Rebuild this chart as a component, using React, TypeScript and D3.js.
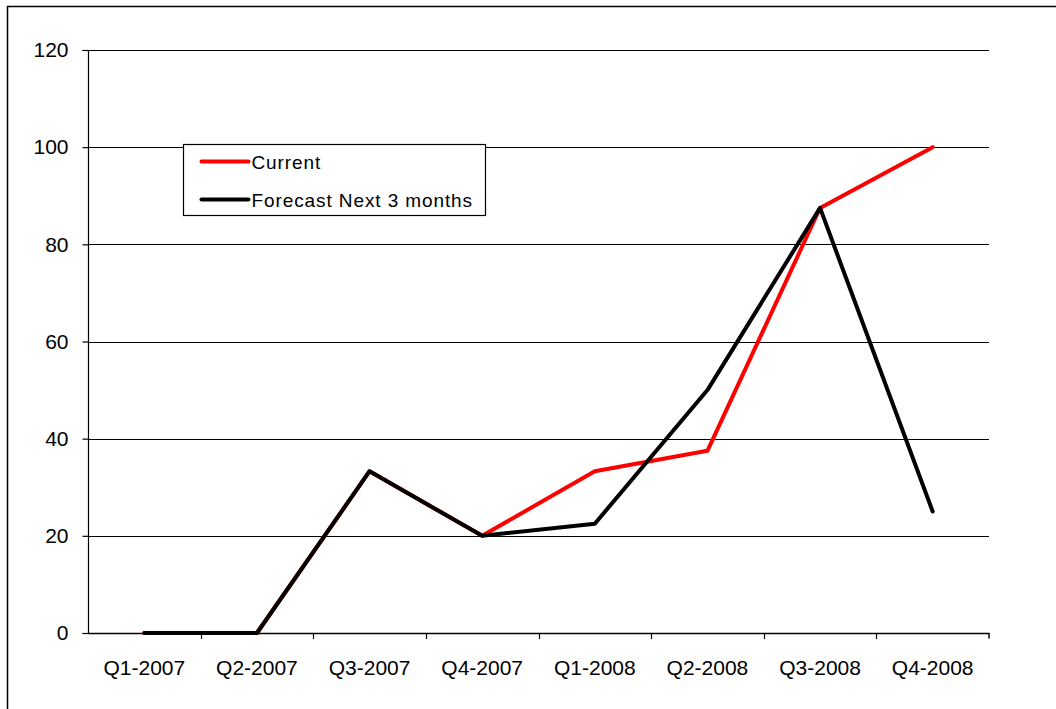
import React, { useEffect, useRef } from 'react';
import * as d3 from 'd3';

const categories = ['Q1-2007', 'Q2-2007', 'Q3-2007', 'Q4-2007', 'Q1-2008', 'Q2-2008', 'Q3-2008', 'Q4-2008'];
const current = [0, 0, 33.3, 20, 33.3, 37.5, 87.5, 100];
const forecast = [0, 0, 33.3, 20, 22.5, 50, 87.5, 25];
const yTicks = [0, 20, 40, 60, 80, 100, 120];

const series = [
    { name: 'Current', values: current, color: '#ff0000' },
    { name: 'Forecast Next 3 months', values: forecast, color: '#000000' },
];

function App() {
    const ref = useRef<SVGSVGElement>(null);

    useEffect(() => {
        const svg = d3.select(ref.current);
        svg.selectAll('*').remove();
        const width = 1056, height = 709;
        const left = 88, right = 989, top = 50, bottom = 633;
        const font = 'Liberation Sans, Arial, sans-serif';
        const fs = 21;

        // outer frame
        svg.append('rect')
            .attr('x', 7.5).attr('y', 6.5)
            .attr('width', width).attr('height', height)
            .attr('fill', 'white')
            .attr('stroke', '#000').attr('stroke-width', 1.5);

        const x = d3.scaleBand().domain(categories).range([left, right]);
        const y = d3.scaleLinear().domain([0, 120]).range([bottom, top]);

        // gridlines
        svg.append('g').selectAll('line')
            .data(yTicks.filter(d => d > 0))
            .join('line')
            .attr('x1', left).attr('x2', right)
            .attr('y1', d => Math.round(y(d)) + 0.5).attr('y2', d => Math.round(y(d)) + 0.5)
            .attr('stroke', '#000').attr('stroke-width', 1.2);

        // y axis
        const yAxis = svg.append('g').attr('transform', `translate(${left + 0.5},0)`)
            .call(d3.axisLeft(y).tickValues(yTicks).tickSize(6).tickPadding(14));
        yAxis.select('.domain').attr('d', `M-6,${top + 0.5}H0V${bottom + 0.5}H-6`).attr('stroke-width', 1.2);
        yAxis.selectAll('.tick line').attr('stroke-width', 1.2);
        yAxis.selectAll('text').attr('font-family', font).attr('font-size', fs).attr('fill', '#000');

        // x axis
        const xAxis = svg.append('g').attr('transform', `translate(0,${bottom + 0.5})`)
            .call(d3.axisBottom(x).tickSize(0).tickPadding(27));
        xAxis.select('.domain').attr('d', `M${left},0H${right}V5`).attr('stroke-width', 1.5);
        xAxis.selectAll('text').attr('font-family', font).attr('font-size', fs).attr('fill', '#000');
        svg.append('g').selectAll('line')
            .data(categories.slice(1))
            .join('line')
            .attr('x1', d => Math.round(x(d)!) + 0.5).attr('x2', d => Math.round(x(d)!) + 0.5)
            .attr('y1', bottom).attr('y2', bottom + 6)
            .attr('stroke', '#000').attr('stroke-width', 1.2);

        const line = d3.line<number>()
            .x((_, i) => x(categories[i])! + x.bandwidth() / 2)
            .y(d => y(d));

        svg.append('g').selectAll('path')
            .data(series)
            .join('path')
            .attr('d', d => line(d.values))
            .attr('fill', 'none')
            .attr('stroke', d => d.color)
            .attr('stroke-width', 4)
            .attr('stroke-linejoin', 'round')
            .attr('stroke-linecap', 'round');

        // legend
        const lg = svg.append('g').attr('transform', 'translate(183.5,144.5)');
        lg.append('rect').attr('width', 302).attr('height', 71)
            .attr('fill', 'white').attr('stroke', '#000').attr('stroke-width', 1.2);
        series.forEach((s, i) => {
            const cy = 17 + i * 38;
            lg.append('line')
                .attr('x1', 18).attr('x2', 65).attr('y1', cy).attr('y2', cy)
                .attr('stroke', s.color).attr('stroke-width', 4).attr('stroke-linecap', 'round');
            lg.append('text')
                .attr('x', 68).attr('y', cy + 7)
                .attr('font-family', font).attr('font-size', 19)
                .attr('letter-spacing', 0.9)
                .text(s.name);
        });
    }, []);

    return <svg ref={ref} width={1056} height={709} style={{ position: 'absolute', left: 0, top: 0 }}></svg>;
}

export default App;
